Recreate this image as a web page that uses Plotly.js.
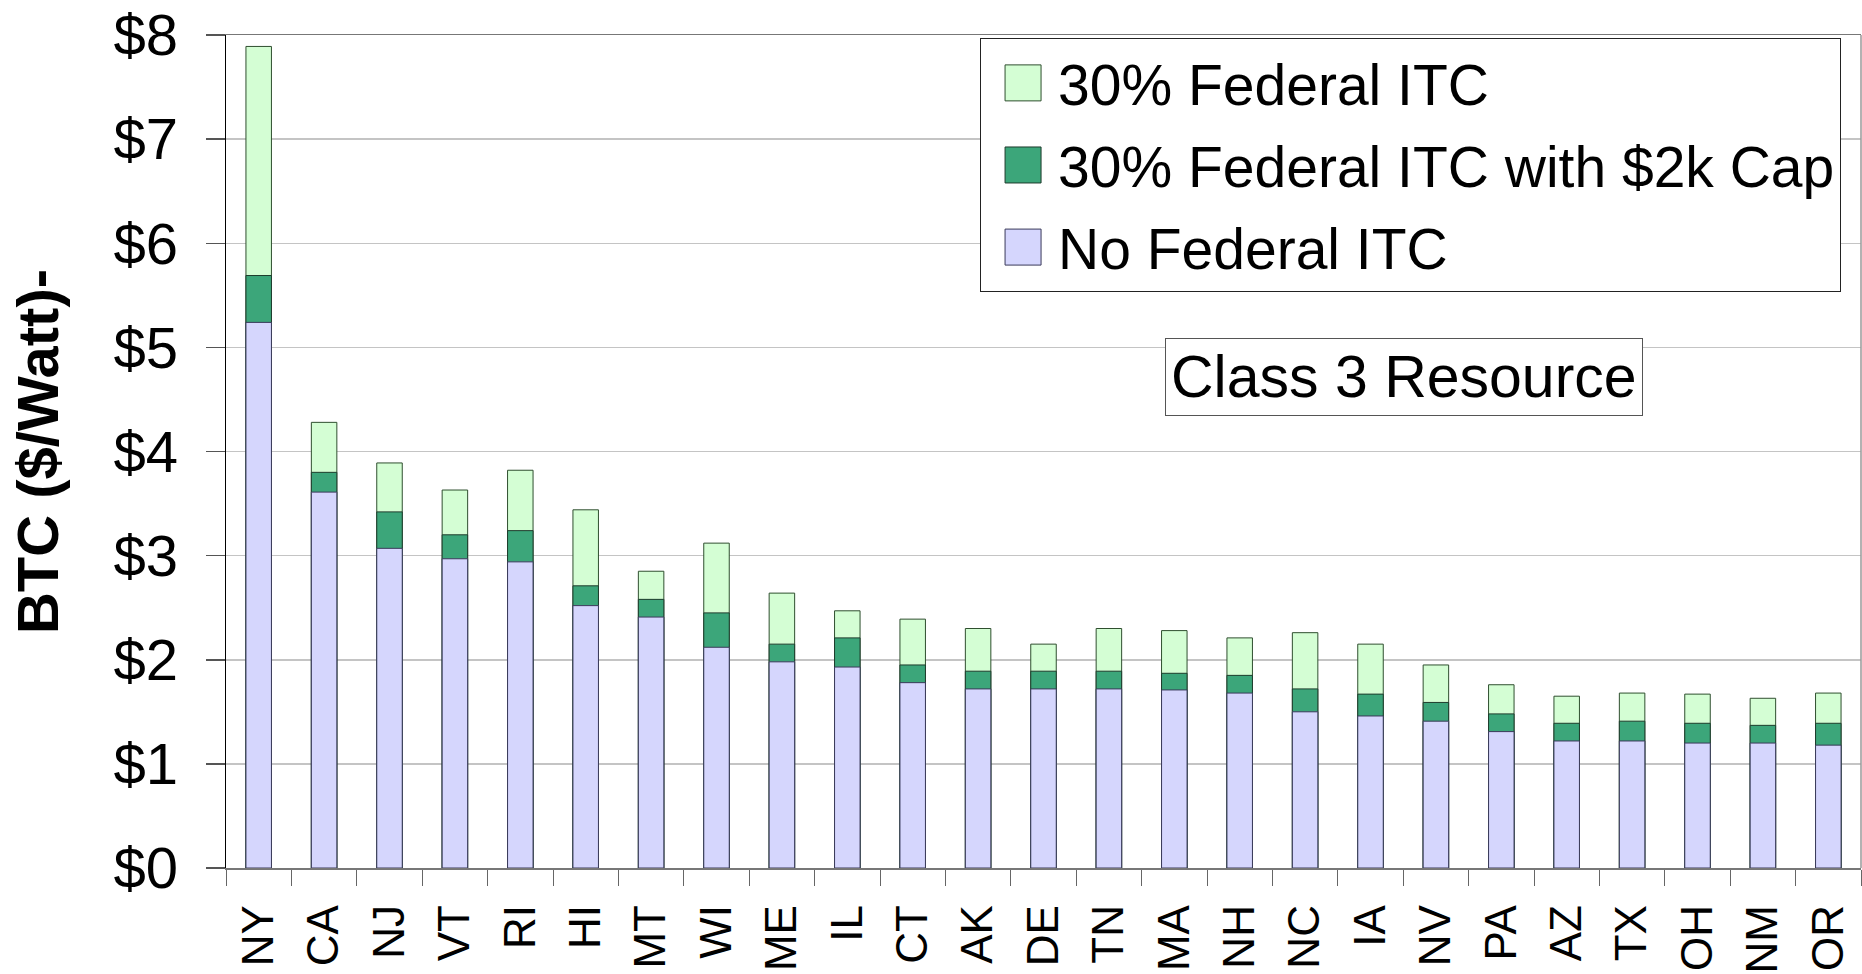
<!DOCTYPE html>
<html>
<head>
<meta charset="utf-8">
<script src="https://cdn.plot.ly/plotly-3.0.1.min.js"></script>
<style>html,body{margin:0;padding:0;background:#fff;}#chart{width:1862px;height:974px;}</style>
</head>
<body>
<div id="chart"></div>
<script>
const states = ["NY","CA","NJ","VT","RI","HI","MT","WI","ME","IL","CT","AK","DE","TN","MA","NH","NC","IA","NV","PA","AZ","TX","OH","NM","OR"];
const btcFullITC = [7.89,4.28,3.89,3.63,3.82,3.44,2.85,3.12,2.64,2.47,2.39,2.30,2.15,2.30,2.28,2.21,2.26,2.15,1.95,1.76,1.65,1.68,1.67,1.63,1.68];
const btcCappedITC = [5.69,3.80,3.42,3.20,3.24,2.71,2.58,2.45,2.15,2.21,1.95,1.89,1.89,1.89,1.87,1.85,1.72,1.67,1.59,1.48,1.39,1.41,1.39,1.37,1.39];
const btcNoITC = [5.24,3.61,3.07,2.97,2.94,2.52,2.41,2.12,1.98,1.93,1.78,1.72,1.72,1.72,1.71,1.68,1.50,1.46,1.41,1.31,1.22,1.22,1.20,1.20,1.18];
const seriesNames = ["30% Federal ITC","30% Federal ITC with $2k Cap","No Federal ITC"];
const yTickVals = [0,1,2,3,4,5,6,7,8];
const yTickText = yTickVals.map(v => "&#36;" + v);

const FONT = "Liberation Sans, Arial, sans-serif";
const colors = ["#d4fed4","#3ca67a","#d5d6fd"];
const lines = ["#2f4f2f","#1e3b2c","#3a3a5a"];
const data = [btcFullITC, btcCappedITC, btcNoITC].map((vals, i) => ({
  type: "bar",
  x: states,
  y: vals,
  name: seriesNames[i],
  legendgroup: "g" + i,
  marker: {color: colors[i], line: {color: lines[i], width: 1}},
  hoverinfo: "x+y+name"
}));

const layout = {
  width: 1862, height: 974,
  margin: {l: 226, r: 1, t: 35, b: 106},
  paper_bgcolor: "#ffffff", plot_bgcolor: "#ffffff",
  barmode: "overlay",
  bargap: 0.61,
  font: {family: FONT, color: "#000"},
  showlegend: true,
  legend: {
    x: 0.4612, y: 0.996, xanchor: "left", yanchor: "top",
    bgcolor: "#ffffff", bordercolor: "#222", borderwidth: 1,
    font: {family: FONT, size: 57, color: "#000"},
    itemwidth: 67,
    traceorder: "grouped",
    tracegroupgap: 5
  },
  xaxis: {
    type: "category",
    tickangle: -90,
    tickfont: {family: FONT, size: 44, color: "#000"},
    ticks: "outside", ticklen: 16, tickcolor: "#666", tickwidth: 1,
    tickson: "boundaries",
    ticklabelstandoff: 18,
    showline: true, linecolor: "#777", linewidth: 1.5, mirror: true,
    showgrid: false, zeroline: false,
    automargin: false
  },
  yaxis: {
    range: [0, 8],
    tickmode: "array",
    tickvals: yTickVals,
    ticktext: yTickText,
    tickfont: {family: FONT, size: 58, color: "#000"},
    ticks: "outside", ticklen: 19, tickcolor: "#555", tickwidth: 1.5,
    ticklabelstandoff: 16,
    showline: true, linecolor: "#000", linewidth: 1.5,
    showgrid: true, gridcolor: "#c4c4c4", gridwidth: 1.5,
    zeroline: false,
    automargin: true,
    title: {text: "<b>BTC ($/Watt)-</b>", standoff: 36, font: {family: FONT, size: 58, color: "#000"}}
  },
  shapes: [
    {type: "line", xref: "paper", yref: "paper", x0: 1, x1: 1, y0: 0, y1: 1, line: {color: "#999", width: 1.5}}
  ],
  annotations: [
    {xref: "paper", yref: "paper", x: 0.7207, y: 0.589, xanchor: "center", yanchor: "middle",
     text: "Class 3 Resource", showarrow: false,
     font: {family: FONT, size: 59, color: "#000"},
     bgcolor: "#ffffff", bordercolor: "#555", borderwidth: 1, borderpad: 5}
  ]
};

Plotly.newPlot("chart", data, layout, {displayModeBar: false, staticPlot: true}).then(gd => {
  gd.querySelectorAll(".legend .legendpoints path").forEach(p => {
    p.setAttribute("d", "M18,18H-18V-18H18Z");
    p.setAttribute("transform", "translate(42,0)");
  });
});
</script>
</body>
</html>
